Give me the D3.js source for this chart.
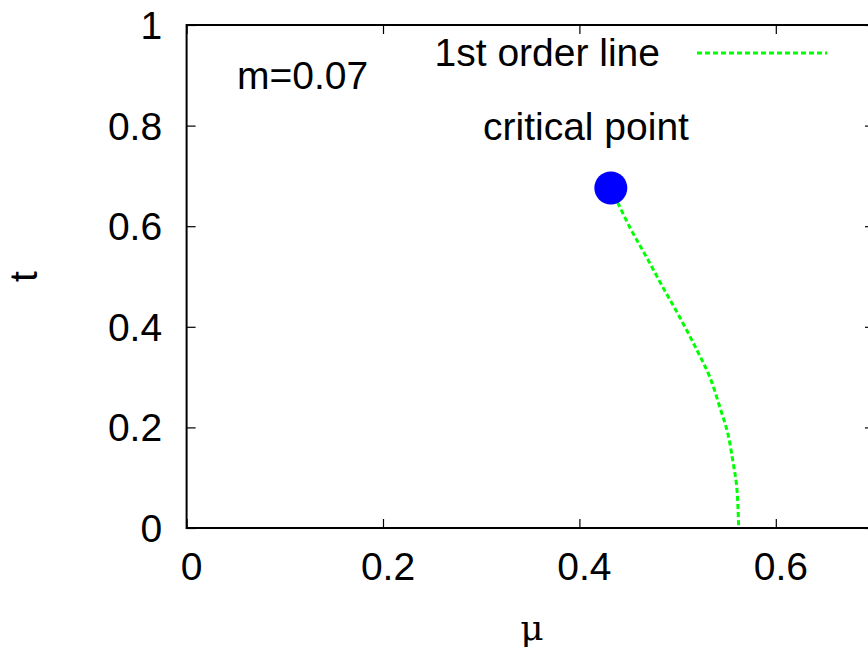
<!DOCTYPE html>
<html lang="en">
<head>
<meta charset="UTF-8">
<title>m=0.07 phase diagram</title>
<script src="https://d3js.org/d3.v7.min.js"></script>
<style>
  body { margin: 0; background: #fff; overflow: hidden; }
  text { font-family: "Liberation Sans", Arial, sans-serif; fill: #000; }
</style>
</head>
<body>
<div id="chart"></div>
<script>
// 1st order line (mu, t)
var lineMu = [0.432, 0.4513, 0.4682, 0.4849, 0.5022, 0.5196, 0.5328, 0.5429, 0.5510, 0.5561, 0.5602, 0.5622];
var lineT  = [0.676, 0.598, 0.539, 0.479, 0.419, 0.354, 0.300, 0.241, 0.189, 0.135, 0.082, 0.0];
// critical point
var critMu = [0.432];
var critT  = [0.676];
// ticks
var xTicks = [0, 0.2, 0.4, 0.6];
var yTicks = [0, 0.2, 0.4, 0.6, 0.8, 1];

var W = 868, H = 657;
var pLeft = 186.6, pRight = 874, pTop = 25, pBottom = 528;
var fs = 39;

var svg = d3.select("#chart").append("svg")
    .attr("width", W)
    .attr("height", H);

var x = d3.scaleLinear().domain([0, 0.7]).range([pLeft, pRight]);
var y = d3.scaleLinear().domain([0, 1]).range([pBottom, pTop]);

var tickLen = 9;

// ticks on all four sides
var xAxisB = d3.axisBottom(x).tickValues(xTicks).tickSizeInner(-tickLen).tickSizeOuter(0).tickFormat("");
var xAxisT = d3.axisTop(x).tickValues(xTicks).tickSizeInner(-tickLen).tickSizeOuter(0).tickFormat("");
var yAxisL = d3.axisLeft(y).tickValues(yTicks).tickSizeInner(-tickLen).tickSizeOuter(0).tickFormat("");
var yAxisR = d3.axisRight(y).tickValues(yTicks).tickSizeInner(-tickLen).tickSizeOuter(0).tickFormat("");

[[xAxisB, "translate(0," + pBottom + ")"],
 [xAxisT, "translate(0," + pTop + ")"],
 [yAxisL, "translate(" + pLeft + ",0)"],
 [yAxisR, "translate(" + pRight + ",0)"]].forEach(function(a) {
    var g = svg.append("g").attr("transform", a[1]).call(a[0]);
    g.select(".domain").remove();
    g.selectAll("line").attr("stroke", "#000").attr("stroke-width", 1.2);
});

// border
svg.append("rect")
    .attr("x", pLeft).attr("y", pTop)
    .attr("width", pRight - pLeft).attr("height", pBottom - pTop)
    .attr("fill", "none")
    .attr("stroke", "#000")
    .attr("stroke-width", 2);

// tick labels
svg.append("g").selectAll("text")
    .data(xTicks)
    .enter().append("text")
    .attr("x", function(d) { return x(d) + 5; })
    .attr("y", pBottom + 52)
    .attr("text-anchor", "middle")
    .style("font-size", fs + "px")
    .text(function(d) { return d; });

svg.append("g").selectAll("text")
    .data(yTicks)
    .enter().append("text")
    .attr("x", pLeft - 24.5)
    .attr("y", function(d) { return y(d) + 14; })
    .attr("text-anchor", "end")
    .style("font-size", fs + "px")
    .text(function(d) { return d; });

// axis labels
svg.append("text")
    .attr("x", 532)
    .attr("y", 640)
    .attr("text-anchor", "middle")
    .style("font-family", "'DejaVu Serif', serif")
    .style("font-size", "36px")
    .text("\u03bc");

svg.append("text")
    .attr("transform", "translate(37," + ((pTop + pBottom) / 2) + ") rotate(-90)")
    .attr("text-anchor", "middle")
    .style("font-size", fs + "px")
    .text("t");

// annotation
svg.append("text")
    .attr("x", 237)
    .attr("y", 89)
    .style("font-size", fs + "px")
    .text("m=0.07");

// 1st order line
var pts = lineMu.map(function(m, i) { return [m, lineT[i]]; });
var line = d3.line()
    .x(function(d) { return x(d[0]); })
    .y(function(d) { return y(d[1]); })
    .curve(d3.curveCatmullRom);

svg.append("path")
    .datum(pts)
    .attr("d", line)
    .attr("fill", "none")
    .attr("stroke", "#00ff00")
    .attr("stroke-width", 3)
    .attr("stroke-dasharray", "5,3");

// critical point
svg.append("g").selectAll("circle")
    .data(critMu)
    .enter().append("circle")
    .attr("cx", function(d) { return x(d); })
    .attr("cy", function(d, i) { return y(critT[i]); })
    .attr("r", 16.5)
    .attr("fill", "#0000ff");

// legend
svg.append("text")
    .attr("x", 660)
    .attr("y", 66)
    .attr("text-anchor", "end")
    .style("font-size", fs + "px")
    .text("1st order line");

svg.append("line")
    .attr("x1", 697).attr("x2", 827)
    .attr("y1", 53).attr("y2", 53)
    .attr("stroke", "#00ff00")
    .attr("stroke-width", 3)
    .attr("stroke-dasharray", "5,3");

svg.append("text")
    .attr("x", 483)
    .attr("y", 140)
    .style("font-size", fs + "px")
    .text("critical point");
</script>
</body>
</html>
